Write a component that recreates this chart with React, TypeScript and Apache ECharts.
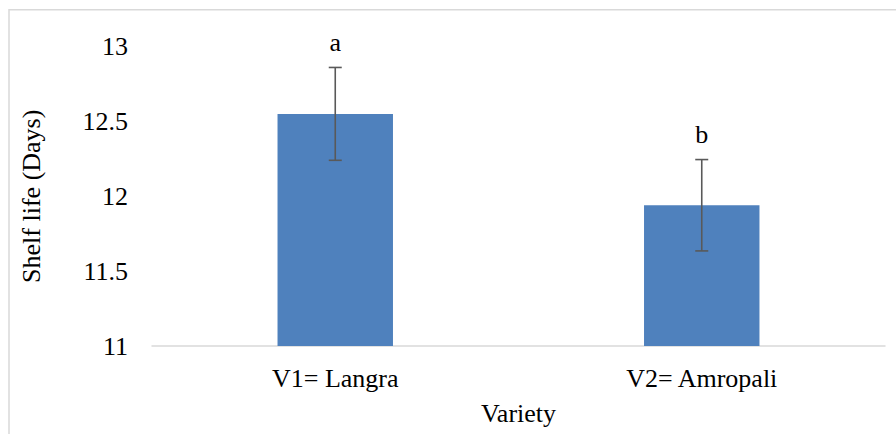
import React, { useEffect, useRef } from "react";
import * as echarts from "echarts";

const categories = ["V1= Langra", "V2= Amropali"];
const shelfLife = [12.55, 11.94];
const errors = [0.31, 0.305];
const letters = ["a", "b"];

const FONT = "Liberation Serif";

export default function App() {
  const ref = useRef<HTMLDivElement>(null);
  useEffect(() => {
    if (!ref.current) return;
    const chart = echarts.init(ref.current, undefined, { renderer: "svg" });
    const errData = shelfLife.map((v, i) => [i, v - errors[i], v + errors[i]]);
    chart.setOption({
      animation: false,
      backgroundColor: "#fff",
      textStyle: { fontFamily: FONT },
      graphic: [
        {
          type: "rect",
          shape: { x: 9, y: 9.75, width: 1000, height: 1000 },
          style: { fill: "none", stroke: "#d9d9d9", lineWidth: 1.5 },
          silent: true,
        },
      ],
      grid: { left: 152, right: 11, top: 46.5, bottom: 88 },
      xAxis: {
        type: "category",
        data: categories,
        name: "Variety",
        nameLocation: "middle",
        nameGap: 54,
        nameTextStyle: { fontFamily: FONT, fontSize: 26, color: "#000" },
        axisLine: { lineStyle: { color: "#d9d9d9", width: 1.5 } },
        axisTick: { show: false },
        axisLabel: { fontFamily: FONT, fontSize: 26, color: "#000", margin: 19 },
      },
      yAxis: {
        type: "value",
        min: 11,
        max: 13,
        interval: 0.5,
        name: "Shelf life (Days)",
        nameLocation: "middle",
        nameGap: 108,
        nameTextStyle: { fontFamily: FONT, fontSize: 26, color: "#000" },
        axisLine: { show: false },
        axisTick: { show: false },
        splitLine: { show: false },
        axisLabel: { fontFamily: FONT, fontSize: 26, color: "#000", margin: 24 },
      },
      series: [
        {
          type: "bar",
          data: shelfLife,
          barWidth: "31.5%",
          itemStyle: { color: "#4f81bd" },
        },
        {
          type: "custom",
          data: errData,
          z: 10,
          renderItem: (params: any, api: any) => {
            const i = api.value(0);
            const lo = api.coord([i, api.value(1)]);
            const hi = api.coord([i, api.value(2)]);
            const x = lo[0];
            const cap = 6.5;
            const st = { stroke: "#595959", lineWidth: 1.6 };
            return {
              type: "group",
              children: [
                { type: "line", shape: { x1: x, y1: hi[1], x2: x, y2: lo[1] }, style: st },
                { type: "line", shape: { x1: x - cap, y1: hi[1], x2: x + cap, y2: hi[1] }, style: st },
                { type: "line", shape: { x1: x - cap, y1: lo[1], x2: x + cap, y2: lo[1] }, style: st },
                {
                  type: "text",
                  style: {
                    text: letters[params.dataIndex],
                    x: x,
                    y: hi[1] - 12,
                    textAlign: "center",
                    textVerticalAlign: "bottom",
                    fontFamily: FONT,
                    fontSize: 26,
                    fill: "#000",
                  },
                },
              ],
            };
          },
        },
      ],
    });
    return () => chart.dispose();
  }, []);
  return (
    <div
      ref={ref}
      style={{ position: "fixed", left: 0, top: 0, width: 896, height: 434 }}
    />
  );
}
